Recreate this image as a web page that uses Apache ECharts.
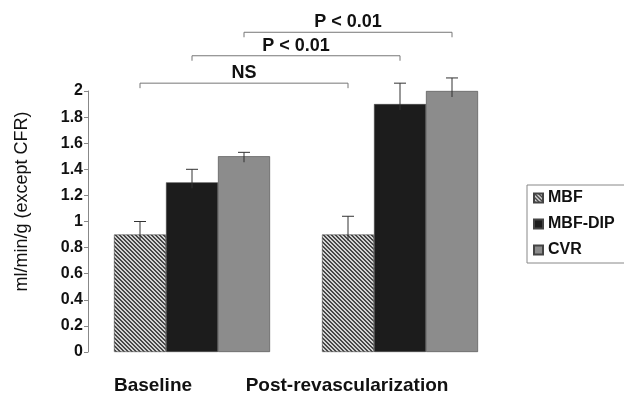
<!DOCTYPE html>
<html>
<head>
<meta charset="UTF-8">
<title>MBF chart</title>
<script src="https://cdn.jsdelivr.net/npm/echarts@6/dist/echarts.min.js"></script>
<style>
  html, body { margin: 0; padding: 0; background: #fff; }
  #main { width: 624px; height: 401px; }
</style>
</head>
<body>
<div id="main"></div>
<script>
// data
var categories = ['Baseline', 'Post-revascularization'];
var seriesNames = ['MBF', 'MBF-DIP', 'CVR'];
var mbf = [0.9, 0.9];
var mbfErr = [0.1, 0.14];
var mbfDip = [1.3, 1.9];
var mbfDipErr = [0.1, 0.16];
var cvr = [1.5, 2.0];
var cvrErr = [0.03, 0.1];

// significance brackets: which series is compared between the two groups
var bracketSeries = [0, 1, 2];
var bracketLevel = [2.06, 2.27, 2.45];
var bracketText = ['NS', 'P < 0.01', 'P < 0.01'];

var values = [mbf, mbfDip, cvr];
var errors = [mbfErr, mbfDipErr, cvrErr];

// hatched fill for MBF
function hatch() {
  var c = document.createElement('canvas');
  c.width = 4; c.height = 4;
  var ctx = c.getContext('2d');
  var img = ctx.createImageData(4, 4);
  for (var y = 0; y < 4; y++) {
    for (var x = 0; x < 4; x++) {
      var dark = ((x - y + 8) % 4) < 2;
      var v = dark ? 70 : 210;
      var i = (y * 4 + x) * 4;
      img.data[i] = v; img.data[i + 1] = v; img.data[i + 2] = v; img.data[i + 3] = 255;
    }
  }
  ctx.putImageData(img, 0, 0);
  return c;
}

var colors = [{ image: hatch(), repeat: 'repeat' }, '#1c1c1c', '#8c8c8c'];
var font = 'Liberation Sans';

function barWidth(api) {
  return api.size([1, 0])[0] * 0.75 / 3;
}

var errData = [];
values.forEach(function (vals, si) {
  vals.forEach(function (v, ci) {
    errData.push([ci, v, errors[si][ci], si]);
  });
});

var bracketData = bracketSeries.map(function (si, k) {
  return [0, bracketLevel[k], si, k];
});

var barSeries = seriesNames.map(function (name, si) {
  return {
    name: name,
    type: 'bar',
    data: values[si],
    barGap: '0%',
    barCategoryGap: '25%',
    itemStyle: { color: colors[si], borderColor: '#444', borderWidth: 0.6 }
  };
});

var option = {
  animation: false,
  backgroundColor: '#fff',
  grid: { left: 88, right: 120, top: 91, bottom: 49 },
  legend: {
    data: seriesNames,
    icon: 'rect',
    orient: 'vertical',
    left: 527,
    top: 185,
    itemWidth: 9,
    itemHeight: 9,
    itemGap: 10,
    padding: [5, 40, 5, 6],
    borderColor: '#888',
    borderWidth: 1,
    textStyle: { fontFamily: font, fontWeight: 'bold', fontSize: 16, color: '#111', lineHeight: 16 }
  },
  xAxis: {
    type: 'category',
    data: categories,
    axisLine: { show: false },
    axisTick: { show: false },
    axisLabel: {
      margin: 24,
      formatter: function (v, i) { return i === 0 ? '{a|' + v + '}' : '{b|' + v + '}'; },
      rich: {
        a: { fontFamily: font, fontWeight: 'bold', fontSize: 19, color: '#111', padding: [0, 78, 0, 0] },
        b: { fontFamily: font, fontWeight: 'bold', fontSize: 19, color: '#111', padding: [0, 106, 0, 0] }
      }
    }
  },
  yAxis: {
    type: 'value',
    min: 0,
    max: 2,
    interval: 0.2,
    name: 'ml/min/g (except CFR)',
    nameLocation: 'middle',
    nameGap: 57,
    nameTextStyle: { fontFamily: font, fontSize: 18, color: '#111', padding: [0, 0, 0, 40] },
    splitLine: { show: false },
    axisLine: { show: true, lineStyle: { color: '#888' } },
    axisTick: { show: true, length: 4, lineStyle: { color: '#888' } },
    axisLabel: {
      margin: 5,
      fontFamily: font,
      fontWeight: 'bold',
      fontSize: 16,
      color: '#111',
      formatter: function (v) { return String(+v.toFixed(1)); }
    }
  },
  series: barSeries.concat([
    {
      type: 'custom',
      name: 'err',
      data: errData,
      encode: { x: 0, y: 1 },
      z: 5,
      renderItem: function (params, api) {
        var ci = api.value(0), v = api.value(1), e = api.value(2), si = api.value(3);
        var bw = barWidth(api);
        var x = api.coord([ci, 0])[0] + (si - 1) * bw;
        var y0 = api.coord([ci, v])[1];
        var y1 = api.coord([ci, v + e])[1];
        var style = { stroke: '#333', lineWidth: 1 };
        return {
          type: 'group',
          children: [
            { type: 'line', shape: { x1: x, y1: y0 + 6, x2: x, y2: y1 }, style: style },
            { type: 'line', shape: { x1: x - 6, y1: y1, x2: x + 6, y2: y1 }, style: style }
          ]
        };
      }
    },
    {
      type: 'custom',
      name: 'brackets',
      data: bracketData,
      encode: { x: 0, y: 1 },
      clip: false,
      z: 5,
      renderItem: function (params, api) {
        var lvl = api.value(1), si = api.value(2), k = api.value(3);
        var bw = barWidth(api);
        var xa = api.coord([0, 0])[0] + (si - 1) * bw;
        var xb = api.coord([1, 0])[0] + (si - 1) * bw;
        var y = api.coord([0, lvl])[1];
        return {
          type: 'group',
          children: [
            { type: 'polyline', shape: { points: [[xa, y + 5], [xa, y], [xb, y], [xb, y + 5]] },
              style: { stroke: '#777', lineWidth: 1, fill: null } },
            { type: 'text', x: (xa + xb) / 2, y: y - 1,
              style: { text: bracketText[k], textAlign: 'center', textVerticalAlign: 'bottom',
                       fontFamily: font, fontWeight: 'bold', fontSize: 18, fill: '#111' } }
          ]
        };
      }
    }
  ])
};

var myChart = echarts.init(document.getElementById('main'));
myChart.setOption(option);
</script>
</body>
</html>
